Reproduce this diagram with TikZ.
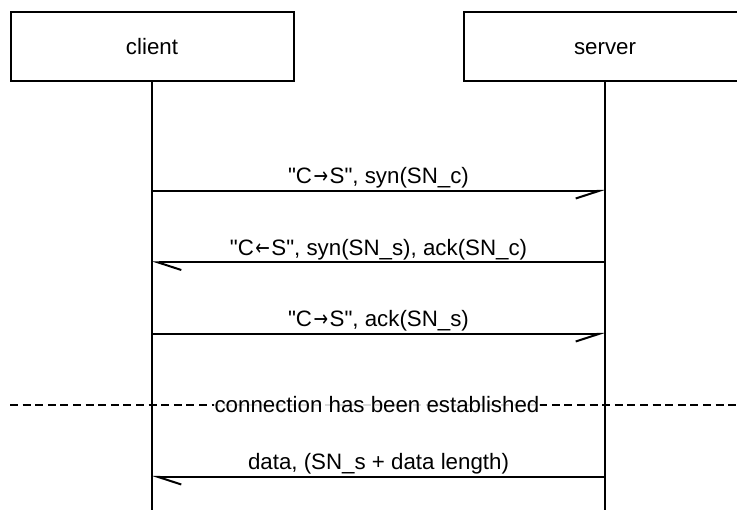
\documentclass[tikz,border=0pt]{standalone}
\usepackage{graphicx}
\usepackage{fontspec}
\setmainfont{Liberation Sans}[Ligatures=TeXOff]
\newfontfamily\arrowfont{DejaVu Sans}
\newcommand{\rarr}{\kern1.5pt{\arrowfont\scalebox{0.78}[1]{→}}\kern1.5pt}
\newcommand{\larr}{\kern1.5pt{\arrowfont\scalebox{0.78}[1]{←}}\kern1.5pt}
\usetikzlibrary{arrows.meta}
\tikzset{
  actor/.style={draw, line width=2pt, minimum width=283pt, minimum height=69pt,
    inner sep=0pt, text height=16pt, text depth=0pt, font=\fontsize{22.3}{26}\selectfont},
  lifeline/.style={line width=2pt},
  msgR/.style={line width=2pt, -{Straight Barb[harpoon,swap,length=23pt,width=15pt,line width=2pt]}},
  msgL/.style={line width=2pt, -{Straight Barb[harpoon,length=23pt,width=15pt,line width=2pt]}},
  msglabel/.style={anchor=base, inner sep=0pt, yshift=7pt, font=\fontsize{22.3}{26}\selectfont},
  divider/.style={line width=2pt, dash pattern=on 8pt off 4.6pt},
  divlabel/.style={fill=white, fill opacity=0.85, text opacity=1, inner sep=0.5pt,
    font=\fontsize{22.3}{26}\selectfont}
}
\begin{document}
\begin{tikzpicture}[x=1pt,y=-1pt]
\useasboundingbox (0,0) rectangle (737,510);
\clip (0,0) rectangle (737,510);
\node[actor] (client) at (152,47) {client};
\node[actor] (server) at (605,47) {server};
\coordinate (cend) at (152,512);
\coordinate (send) at (605,512);
\draw[lifeline] (client.south) -- (cend);
\draw[lifeline] (server.south) -- (send);
% message points
\coordinate (c1) at (152,191);   \coordinate (s1) at (605,191);
\coordinate (c2) at (152,262.5); \coordinate (s2) at (605,262.5);
\coordinate (c3) at (152,334);   \coordinate (s3) at (605,334);
\coordinate (c5) at (152,477);   \coordinate (s5) at (605,477);
\draw[msgR] (c1) -- node[msglabel] {"C\rarr S", syn(SN\_c)} (s1);
\draw[msgL] (s2) -- node[msglabel] {"C\larr S", syn(SN\_s), ack(SN\_c)} (c2);
\draw[msgR] (c3) -- node[msglabel] {"C\rarr S", ack(SN\_s)} (s3);
\draw[msgL] (s5) -- node[msglabel] {data, (SN\_s + data length)} (c5);
% divider
\coordinate (dl) at (10,405);
\coordinate (dr) at (740,405);
\draw[divider] (dl) -- (dr);
\node[divlabel] (est) at (377,405) {connection has been established};
\end{tikzpicture}
\end{document}
